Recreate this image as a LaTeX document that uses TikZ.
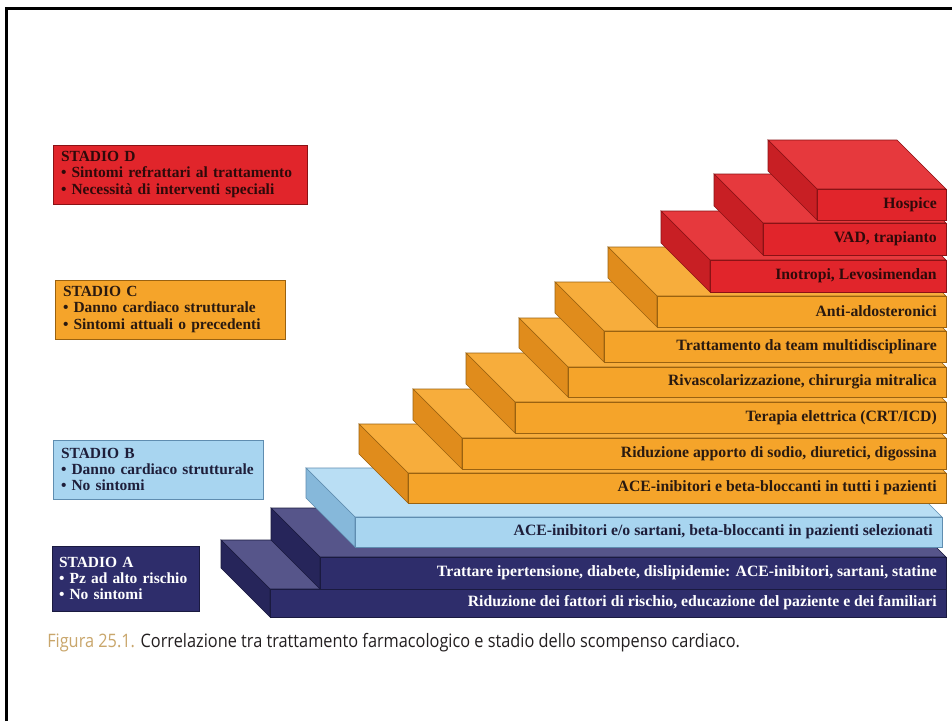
\documentclass[tikz,border=0pt]{standalone}
\usepackage{fontspec}
\setmainfont{Liberation Serif}
\newfontfamily\capfont[FakeStretch=0.88]{Open Sans}
\definecolor{nvF}{HTML}{2E2D6B}\definecolor{nvT}{HTML}{56558A}\definecolor{nvS}{HTML}{26255A}\definecolor{nvL}{HTML}{1A1A40}\definecolor{nvX}{HTML}{FFFFFF}
\definecolor{lbF}{HTML}{A8D5F0}\definecolor{lbT}{HTML}{B9DEF4}\definecolor{lbS}{HTML}{86B8DA}\definecolor{lbL}{HTML}{5F8DB0}\definecolor{lbX}{HTML}{1E1E3A}
\definecolor{orF}{HTML}{F5A42A}\definecolor{orT}{HTML}{F7AD3C}\definecolor{orS}{HTML}{E08C1C}\definecolor{orL}{HTML}{9A6210}\definecolor{orX}{HTML}{2A1A10}
\definecolor{rdF}{HTML}{E1252B}\definecolor{rdT}{HTML}{E6393D}\definecolor{rdS}{HTML}{C81F24}\definecolor{rdL}{HTML}{8A1215}\definecolor{rdX}{HTML}{2E0A0A}
\definecolor{capgold}{HTML}{C9A66B}\definecolor{captext}{HTML}{231F20}
\def\ppx{0.75pt}
% #1 L, #2 T, #3 B, #4 R, #5 family, #6 name, #7 text
\newcommand\stairstep[7]{%
  \path[fill=#5T, draw=#5L, line width=0.4pt] (#1,#2) -- (#1-49,#2-49) -- (#4-49,#2-49) -- (#4,#2) -- cycle;
  \path[fill=#5S, draw=#5L, line width=0.4pt] (#1,#2) -- (#1-49,#2-49) -- (#1-49,#3-49) -- (#1,#3) -- cycle;
  \path[fill=#5F, draw=#5L, line width=0.4pt] (#1,#2) rectangle (#4,#3);
  \node[steptext, text=#5X] (#6) at (#4-9,{(#2+#3)/2}) {#7};
}
\begin{document}
\begin{tikzpicture}[x=0.75pt,y=-0.75pt,
  steptext/.style={anchor=east, inner sep=0pt, font=\fontsize{11.8}{13}\selectfont\bfseries},
  stadio/.style={line width=0.5pt, align=left, inner sep=0pt, font=\fontsize{11.6}{12.2}\selectfont\bfseries}]
\useasboundingbox[fill=white] (0,0) rectangle (952,721);
\draw[line width=3*\ppx] (6.5,721) -- (6.5,8.5) -- (952,8.5);

\stairstep{270}{589}{617}{946}{nv}{s1}{Riduzione dei fattori di rischio, educazione del paziente e dei familiari}
\stairstep{320}{557}{589}{946}{nv}{s2}{Trattare ipertensione, diabete, dislipidemie: ACE-inibitori, sartani, statine}
\stairstep{355}{517}{547}{942}{lb}{s3}{ACE-inibitori e/o sartani, beta-bloccanti in pazienti selezionati}
\stairstep{408}{473}{503}{946}{or}{s4}{ACE-inibitori e beta-bloccanti in tutti i pazienti}
\stairstep{462}{438}{469}{946}{or}{s5}{Riduzione apporto di sodio, diuretici, digossina}
\stairstep{515}{402}{433}{946}{or}{s6}{Terapia elettrica (CRT/ICD)}
\stairstep{568}{367}{397}{946}{or}{s7}{Rivascolarizzazione, chirurgia mitralica}
\stairstep{604}{331}{362}{946}{or}{s8}{Trattamento da team multidisciplinare}
\stairstep{657}{296}{327}{946}{or}{s9}{Anti-aldosteronici}
\stairstep{710}{260}{292}{946}{rd}{s10}{Inotropi, Levosimendan}
\stairstep{763}{223}{255}{946}{rd}{s11}{VAD, trapianto}
\stairstep{817}{189}{220}{946}{rd}{s12}{Hospice}

\node[stadio, draw=rdL, fill=rdF, text=rdX, minimum width=254*\ppx, minimum height=59*\ppx, text width=238*\ppx] (D) at (180,174.5)
  {STADIO D\\• Sintomi refrattari al trattamento\\• Necessità di interventi speciali};
\node[stadio, draw=orL, fill=orF, text=orX, minimum width=230*\ppx, minimum height=59*\ppx, text width=214*\ppx] (C) at (170,309.5)
  {STADIO C\\• Danno cardiaco strutturale\\• Sintomi attuali o precedenti};
\node[stadio, draw=lbL, fill=lbF, text=lbX, minimum width=210*\ppx, minimum height=59*\ppx, text width=194*\ppx] (B) at (158,469.5)
  {STADIO B\\• Danno cardiaco strutturale\\• No sintomi};
\node[stadio, draw=nvL, fill=nvF, text=nvX, minimum width=147*\ppx, minimum height=65*\ppx, text width=133*\ppx] (A) at (125.5,578.5)
  {STADIO A\\• Pz ad alto rischio\\• No sintomi};

\node[anchor=base west, inner sep=0pt, text=captext, font=\capfont\fontsize{13.9}{15}\selectfont] (cap) at (47,647)
  {\textcolor{capgold}{Figura 25.1.} Correlazione tra trattamento farmacologico e stadio dello scompenso cardiaco.};
\end{tikzpicture}
\end{document}
